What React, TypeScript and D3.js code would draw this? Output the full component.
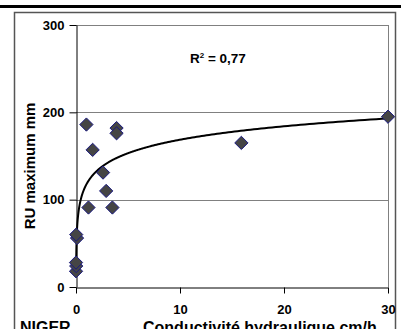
import { useEffect, useRef } from "react";
import * as d3 from "d3";

// conductivity (cm/h) and RU maximum (mm)
const conductivite = [0.0, 0.02, 0.0, 0.1, 0.02, 1.0, 1.6, 1.2, 2.6, 2.9, 3.5, 3.9, 3.9, 15.9, 30];
const ruMax = [18, 24, 28, 56, 60, 186, 157, 91, 131, 110, 91, 182, 176, 165, 195];

const xTicks = [0, 10, 20, 30];
const yTicks = [0, 100, 200, 300];

// logarithmic trend line (y = a ln x + b) as drawn on the chart
const trendA = 22.2;
const trendB = 117.5;
const trendStart = 0.013;
const r2Label = "0,77";

const FONT = "'Liberation Sans', Arial, sans-serif";

export default function App() {
  const svgRef = useRef<SVGSVGElement>(null);

  useEffect(() => {
    if (!svgRef.current) return;
    const svg = d3.select(svgRef.current);
    svg.selectAll("*").remove();

    const W = 401;
    const H = 329;
    const plot = { left: 76, right: 388, top: 25, bottom: 287 };

    const x = d3.scaleLinear().domain([0, 30]).range([plot.left, plot.right]);
    const y = d3.scaleLinear().domain([0, 300]).range([plot.bottom, plot.top]);

    svg.append("rect").attr("width", W).attr("height", H).attr("fill", "#fff");

    // top rule
    svg.append("line")
      .attr("x1", 0).attr("x2", W).attr("y1", 6.5).attr("y2", 6.5)
      .attr("stroke", "#000").attr("stroke-width", 3);

    // chart frame
    svg.append("path")
      .attr("d", `M14.5,${H + 2}V12.5H395.5V${H + 2}`)
      .attr("fill", "none")
      .attr("stroke", "#555").attr("stroke-width", 1.5);

    // gridlines
    const grid = svg.append("g");
    grid.selectAll("line")
      .data(yTicks.filter((t) => t > 0))
      .enter()
      .append("line")
      .attr("x1", plot.left).attr("x2", plot.right)
      .attr("y1", (d) => Math.round(y(d)) + 0.5)
      .attr("y2", (d) => Math.round(y(d)) + 0.5)
      .attr("stroke", "#808080");
    grid.append("line")
      .attr("x1", plot.right + 0.5).attr("x2", plot.right + 0.5)
      .attr("y1", plot.top).attr("y2", plot.bottom)
      .attr("stroke", "#808080");

    // axes
    const yAxis = svg.append("g")
      .attr("transform", `translate(${plot.left + 0.5},0)`)
      .call(d3.axisLeft(y).tickValues(yTicks).tickSize(7).tickSizeOuter(0).tickPadding(5));
    yAxis.select(".domain").attr("stroke", "#000");
    yAxis.selectAll("text")
      .attr("font-family", FONT).attr("font-size", 13).attr("font-weight", "bold")
      .attr("fill", "#000");

    const xAxis = svg.append("g")
      .attr("transform", `translate(0,${plot.bottom + 0.5})`)
      .call(d3.axisBottom(x).tickValues(xTicks).tickSize(6).tickSizeOuter(0).tickPadding(11));
    xAxis.select(".domain").attr("stroke", "#000");
    xAxis.selectAll("text")
      .attr("font-family", FONT).attr("font-size", 13).attr("font-weight", "bold")
      .attr("fill", "#000");

    // trend line
    const trendXs = d3.range(0, 401).map((i) => trendStart * Math.pow(30 / trendStart, i / 400));
    const line = d3.line<number>()
      .x((d) => x(d))
      .y((d) => y(trendA * Math.log(d) + trendB));
    svg.append("path")
      .datum(trendXs)
      .attr("fill", "none")
      .attr("stroke", "#000")
      .attr("stroke-width", 2)
      .attr("d", line);

    // points
    const diamond = d3.symbol().type(d3.symbolDiamond2).size(112);
    svg.append("g")
      .selectAll("path")
      .data(conductivite.map((c, i) => ({ c, v: ruMax[i] })))
      .enter()
      .append("path")
      .attr("transform", (d) => `translate(${x(d.c)},${y(d.v)})`)
      .attr("d", diamond)
      .attr("fill", "#454545")
      .attr("stroke", "#1a1a80")
      .attr("stroke-width", 1);

    // R² label
    const r2 = svg.append("text")
      .attr("x", 190).attr("y", 63)
      .attr("font-family", FONT).attr("font-size", 13.5).attr("font-weight", "bold");
    r2.append("tspan").text("R");
    r2.append("tspan").attr("dy", -5).attr("font-size", 8).text("2");
    r2.append("tspan").attr("dy", 5).text(` = ${r2Label}`);

    // axis titles
    svg.append("text")
      .attr("transform", `translate(35,166) rotate(-90)`)
      .attr("text-anchor", "middle")
      .attr("font-family", FONT).attr("font-size", 15).attr("font-weight", "bold")
      .text("RU maximum mm");

    svg.append("text")
      .attr("x", 143).attr("y", 333)
      .attr("font-family", FONT).attr("font-size", 16).attr("font-weight", "bold")
      .text("Conductivité hydraulique cm/h");

    svg.append("text")
      .attr("x", 20).attr("y", 333)
      .attr("font-family", FONT).attr("font-size", 16).attr("font-weight", "bold")
      .text("NIGER");
  }, []);

  return (
    <svg
      ref={svgRef}
      width={401}
      height={329}
      style={{ position: "absolute", left: 0, top: 0 }}
    />
  );
}
